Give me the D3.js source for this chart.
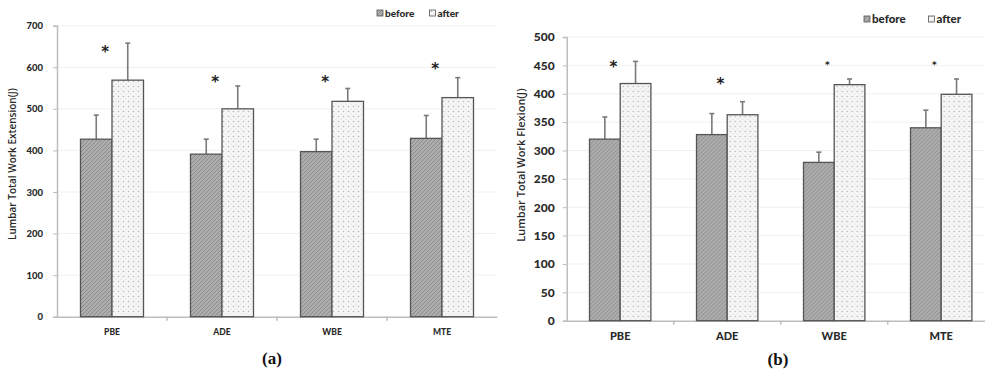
<!DOCTYPE html>
<html>
<head>
<meta charset="utf-8">
<script src="https://cdn.jsdelivr.net/npm/d3@7"></script>
<style>
  body { margin: 0; background: #fff; }
  svg { display: block; font-family: Lato, "Open Sans", sans-serif; }
</style>
</head>
<body>
<svg id="chart" width="985" height="371"></svg>
<script>
// data
const categories = ['PBE', 'ADE', 'WBE', 'MTE'];
const seriesNames = ['before', 'after'];

// (a) extension
const extBefore = [427, 391, 397, 429];
const extBeforeErr = [58, 36, 30, 55];
const extAfter = [569, 500, 518, 527];
const extAfterErr = [89, 55, 31, 48];
const extStars = [645, 572, 571, 602];
const extTicks = [0, 100, 200, 300, 400, 500, 600, 700];

// (b) flexion
const flexBefore = [320, 328, 279, 340];
const flexBeforeErr = [39, 37, 18, 31];
const flexAfter = [418, 363, 416, 399];
const flexAfterErr = [39, 23, 10, 27];
const flexStars = [452, 422, 455, 455];
const flexTicks = [0, 50, 100, 150, 200, 250, 300, 350, 400, 450, 500];

const starSize = [['big', 'big', 'big', 'big'], ['big', 'big', 'small', 'small']];

const svg = d3.select('#chart');
const defs = svg.append('defs');

// hatched fill for "before"
let pb = defs.append('pattern').attr('id', 'patBefore')
  .attr('patternUnits', 'userSpaceOnUse').attr('width', 4).attr('height', 4);
pb.append('rect').attr('width', 4).attr('height', 4).attr('fill', '#adadad');
pb.append('path').attr('d', 'M0,4 L4,0 M-1,1 L1,-1 M3,5 L5,3')
  .attr('stroke', '#8c8c8c').attr('stroke-width', 1);

// dotted fill for "after"
let pa = defs.append('pattern').attr('id', 'patAfter')
  .attr('patternUnits', 'userSpaceOnUse').attr('width', 5).attr('height', 5);
pa.append('rect').attr('width', 5).attr('height', 5).attr('fill', '#f6f6f6');
pa.append('circle').attr('cx', 1.5).attr('cy', 1.5).attr('r', 0.8).attr('fill', '#b8b8b8');
pa.append('circle').attr('cx', 4).attr('cy', 4).attr('r', 0.6).attr('fill', '#cfcfcf');

const fills = ['url(#patBefore)', 'url(#patAfter)'];

function drawPanel(p) {
  let g = svg.append('g');
  let x = d3.scaleBand().domain(categories).range([p.left, p.right]);
  let xs = d3.scaleBand().domain(seriesNames)
    .range([0, x.bandwidth()]).paddingOuter(p.pad).paddingInner(0);
  let y = d3.scaleLinear().domain([0, d3.max(p.ticks)]).range([p.bottom, p.top]);

  // grid
  g.selectAll('.grid').data(p.ticks.slice(1)).enter().append('line')
    .attr('x1', p.left).attr('x2', p.right)
    .attr('y1', d => y(d)).attr('y2', d => y(d))
    .attr('stroke', '#f0f0f0').attr('stroke-width', 1);

  // y axis
  let ya = g.append('g').attr('transform', 'translate(' + p.left + ',0)')
    .call(d3.axisLeft(y).tickValues(p.ticks).tickSize(4).tickPadding(p.tickPad));
  ya.select('.domain').attr('stroke', '#bdbdbd').attr('stroke-width', 1.5);
  ya.selectAll('.tick line').attr('stroke', '#bdbdbd');
  ya.selectAll('text').attr('font-size', p.tickFont).attr('font-weight', 900)
    .attr('fill', '#2a2a2a').attr('font-family', 'Lato');

  // x axis
  let xa = g.append('g').attr('transform', 'translate(0,' + p.bottom + ')')
    .call(d3.axisBottom(x).tickSize(0).tickPadding(p.catPad));
  xa.select('.domain').attr('stroke', '#bdbdbd').attr('stroke-width', 1.5);
  xa.selectAll('text').attr('font-size', p.catFont).attr('font-weight', 900)
    .attr('fill', '#2a2a2a').attr('font-family', 'Lato');
  // boundary ticks between categories
  g.selectAll('.bt').data(categories.slice(1)).enter().append('line')
    .attr('x1', d => x(d)).attr('x2', d => x(d))
    .attr('y1', p.bottom).attr('y2', p.bottom + 4)
    .attr('stroke', '#bdbdbd').attr('stroke-width', 1.5);

  let rows = categories.map((c, i) => ({
    cat: c, i: i, star: p.starAt[i],
    vals: [
      { s: 'before', v: p.before[i], e: p.beforeErr[i], k: 0 },
      { s: 'after', v: p.after[i], e: p.afterErr[i], k: 1 }
    ]
  }));

  let grp = g.selectAll('.grp').data(rows).enter().append('g')
    .attr('transform', d => 'translate(' + x(d.cat) + ',0)');

  // error bars
  grp.selectAll('.err').data(d => d.vals).enter().append('g').each(function (d) {
    let cx = xs(d.s) + xs.bandwidth() / 2;
    let e = d3.select(this);
    e.append('line').attr('x1', cx).attr('x2', cx)
      .attr('y1', y(d.v)).attr('y2', y(d.v + d.e))
      .attr('stroke', '#7a7a7a').attr('stroke-width', 1.6);
    e.append('line').attr('x1', cx - 2.5).attr('x2', cx + 2.5)
      .attr('y1', y(d.v + d.e)).attr('y2', y(d.v + d.e))
      .attr('stroke', '#7a7a7a').attr('stroke-width', 1.6);
  });

  grp.selectAll('.bar').data(d => d.vals).enter().append('rect')
    .attr('x', d => xs(d.s))
    .attr('y', d => y(d.v))
    .attr('width', xs.bandwidth())
    .attr('height', d => y(0) - y(d.v))
    .attr('fill', d => fills[d.k])
    .attr('stroke', '#555').attr('stroke-width', 1.3);

  // significance stars
  grp.append('text')
    .attr('x', d => xs('before') + xs.bandwidth() * 0.78)
    .attr('y', d => y(d.star) + (p.stars[d.i] === 'big' ? 8 : 5))
    .attr('text-anchor', 'middle')
    .attr('font-size', d => p.stars[d.i] === 'big' ? 15 : 9)
    .attr('font-weight', 700).attr('fill', '#222')
    .attr('font-family', 'DejaVu Sans')
    .text('*');

  // y label
  g.append('text')
    .attr('transform', 'translate(' + p.labelX + ',' + p.labelY + ') rotate(-90)')
    .attr('text-anchor', 'middle')
    .attr('font-size', p.labelFont).attr('font-weight', 600).attr('fill', '#2a2a2a')
    .attr('font-family', 'Open Sans')
    .text(p.label);

  // legend
  let lg = g.append('g');
  seriesNames.forEach((s, k) => {
    lg.append('rect').attr('x', p.legX[k]).attr('y', p.legY - 4)
      .attr('width', 6).attr('height', 6)
      .attr('fill', fills[k]).attr('stroke', '#555').attr('stroke-width', 0.8);
    lg.append('text').attr('x', p.legX[k] + 8).attr('y', p.legY + 2.5)
      .attr('font-size', p.legFont).attr('font-weight', 900).attr('fill', '#2a2a2a')
      .attr('font-family', 'Lato')
      .text(s);
  });

  // panel caption
  g.append('text').attr('x', p.capX).attr('y', p.capY)
    .attr('text-anchor', 'middle')
    .attr('font-family', 'Liberation Serif, DejaVu Serif, serif')
    .attr('font-weight', 700).attr('font-size', 17).attr('fill', '#111')
    .text(p.caption);
}

drawPanel({
  left: 57, right: 497, top: 25.7, bottom: 316.7,
  pad: 0.746, ticks: extTicks,
  before: extBefore, beforeErr: extBeforeErr, after: extAfter, afterErr: extAfterErr,
  starAt: extStars, stars: starSize[0],
  tickFont: 9.5, tickPad: 10, catFont: 8.5, catPad: 12,
  label: 'Lumbar Total Work Extension(J)', labelX: 16, labelY: 164, labelFont: 10,
  legX: [377, 429.5], legY: 14, legFont: 10,
  caption: '(a)', capX: 272, capY: 364
});

drawPanel({
  left: 566.7, right: 994.7, top: 37, bottom: 320.7,
  pad: 0.743, ticks: flexTicks,
  before: flexBefore, beforeErr: flexBeforeErr, after: flexAfter, afterErr: flexAfterErr,
  starAt: flexStars, stars: starSize[1],
  tickFont: 12, tickPad: 8, catFont: 11, catPad: 12,
  label: 'Lumbar Total Work Flexion(J)', labelX: 525, labelY: 165, labelFont: 11,
  legX: [864, 928.5], legY: 20, legFont: 11.5,
  caption: '(b)', capX: 778, capY: 365
});
</script>
</body>
</html>
